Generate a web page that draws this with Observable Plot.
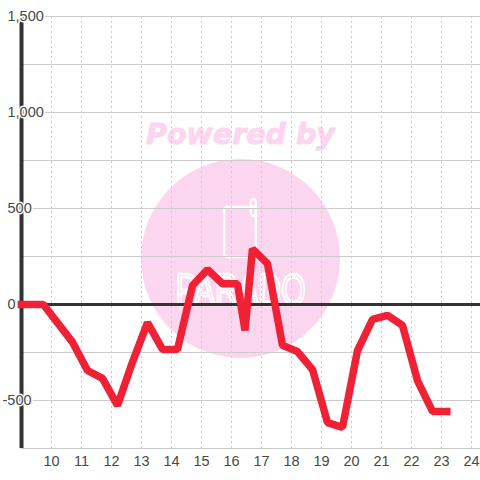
<!DOCTYPE html>
<html>
<head>
<meta charset="utf-8">
<script src="https://cdn.jsdelivr.net/npm/d3@7"></script>
<script src="https://cdn.jsdelivr.net/npm/@observablehq/plot@0.6"></script>
<style>
html,body{margin:0;padding:0;background:#fff}
#chart{position:relative;width:480px;height:480px;overflow:hidden}
#chart svg{position:absolute;left:0;top:0}
</style>
</head>
<body>
<div id="chart"></div>
<script>
const hours = [8.87,9.73,10.7,11.2,11.7,12.2,12.7,13.2,13.7,14.2,14.7,15.2,15.7,16.2,16.45,16.7,17.2,17.7,18.2,18.7,19.2,19.7,20.2,20.7,21.2,21.7,22.2,22.7,23.3];
const values = [0,0,-196,-344,-385,-526,-300,-94,-234,-234,99,182,108,108,-135,290,213,-213,-245,-339,-615,-640,-240,-78,-57,-109,-396,-557,-557];
const xTicks = [10,11,12,13,14,15,16,17,18,19,20,21,22,23,24];
const yPositive = [0,500,1000,1500];
const yNegative = [-500];
const yGrid = [-750,-500,-250,250,500,750,1000,1250,1500];
const series = hours.map((h,i)=>({h,v:values[i]}));
const pink = "#fcd5ee";
const ink = "#484848";
const label = d => (d<0?"-":"") + d3.format(",")(Math.abs(d));

const chart = Plot.plot({
  width:480,height:480,
  marginLeft:21,marginRight:0,marginTop:16,marginBottom:32,
  style:{background:"transparent",fontFamily:"'Liberation Sans',sans-serif",fontSize:"15px",overflow:"visible"},
  x:{domain:[9,24.3],axis:null},
  y:{domain:[-750,1500],axis:null},
  marks:[
    // watermark
    Plot.dot([{x:16.3,y:240}],{x:"x",y:"y",r:99.5,fill:pink,stroke:"none"}),
    Plot.text(["Powered by"],{x:()=>16.3,y:()=>885,text:d=>d,fill:pink,stroke:pink,strokeWidth:1,fontSize:28.5,fontWeight:"bold",fontStyle:"italic",fontFamily:"'DejaVu Sans',sans-serif"}),
    Plot.rect([{}],{x1:()=>15.77,x2:()=>16.83,y1:()=>245,y2:()=>505,rx:3,fill:"none",stroke:"white",strokeWidth:2.5}),
    Plot.rect([{}],{x1:()=>16.66,x2:()=>16.83,y1:()=>460,y2:()=>545,rx:3,fill:"none",stroke:"white",strokeWidth:2.5}),
    Plot.text(["PARADO"],{x:()=>16.3,y:()=>73,text:d=>d,fill:"none",stroke:"white",strokeWidth:2.5,fontSize:45}),
    // grid
    Plot.ruleX(xTicks,{y1:-750,y2:1500,stroke:"#ccc",strokeWidth:1,strokeDasharray:"2,3"}),
    Plot.ruleY(yGrid,{stroke:"#ccc",strokeWidth:1}),
    Plot.ruleY([0],{stroke:"#333",strokeWidth:3}),
    Plot.ruleX([9],{y1:-750,y2:1500,stroke:"#333",strokeWidth:4}),
    // axis labels
    Plot.text(yPositive,{x:()=>9,y:d=>d,text:label,textAnchor:"start",dx:-14,fill:ink,stroke:"white",strokeWidth:3,fontSize:14.5}),
    Plot.text(yNegative,{x:()=>9,y:d=>d,text:label,textAnchor:"start",dx:-19,fill:ink,stroke:"white",strokeWidth:3,fontSize:14.5}),
    // series
    Plot.line(series,{x:"h",y:"v",stroke:"#f02035",strokeWidth:7.5,strokeLinejoin:"miter",strokeLinecap:"butt",curve:"linear"}),
    Plot.text(xTicks,{x:d=>d,y:()=>-750,text:String,dy:13,fill:ink,fontSize:14.5})
  ]
});
d3.select(chart).selectAll("text").filter(function(){return this.textContent==="PARADO";}).attr("textLength",130).attr("lengthAdjust","spacingAndGlyphs");
document.getElementById("chart").appendChild(chart);
</script>
</body>
</html>
